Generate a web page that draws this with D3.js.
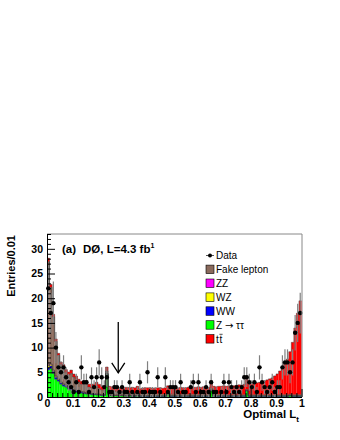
<!DOCTYPE html>
<html>
<head>
<meta charset="utf-8">
<script src="https://cdn.jsdelivr.net/npm/d3@7"></script>
<style>
  body { margin: 0; background: #fff; }
  text { font-family: "Liberation Sans", Arial, sans-serif; }
</style>
</head>
<body>
<div id="chart"></div>
<script>
// histogram bins of width 0.01 on [0, 1]
const binWidth = 0.01;

// Z -> tautau (bottom of the stack)
const zTauTau = [
  5.5, 5.8, 4.8, 3.6, 3.2, 2.6, 2.2, 2.0, 1.6, 1.4,
  1.2, 1.0, 0.9, 0.8, 0.7, 0.6, 0.6, 0.5, 0.5, 0.4,
  0.4, 0.3, 0.3, 4.6, 0.3, 0.2, 0.2, 0.2, 0.2, 0.2,
  0.2, 0.1, 0.2, 0.1, 0.1, 0.2, 0.1, 0.1, 0.1, 0.1,
  0.1, 0.1, 0.1, 0.1, 0.1, 0.1, 0.1, 0.6, 0.1, 0.1,
  0.1, 0.1, 0.1, 0.1, 0.1, 0.1, 0.1, 0.1, 0.1, 0.1,
  0.1, 0.1, 0.1, 0.1, 1.3, 0.1, 0.1, 0.1, 0.1, 0.1,
  0.1, 0.1, 0.1, 0.1, 0.1, 0.1, 0.1, 0.1, 1.2, 0.1,
  0.1, 0.1, 0.1, 0.1, 0.1, 0.1, 0.1, 0.1, 0.1, 0.1,
  0.1, 0.1, 0.1, 0.1, 0.1, 0.2, 0.1, 0.1, 0.1, 0.1
];
const ww = [
  0.5, 0.5, 0.4, 0.4, 0.3, 0.3, 0.3, 0.3, 0.3, 0.2,
  0.2, 0.2, 0.2, 0.2, 0.2, 0.1, 0.1, 0.1, 0.1, 0.1,
  0.1, 0.1, 0.1, 0.1, 0.1, 0.1, 0.1, 0.1, 0.1, 0.1,
  0.1, 0.1, 0.1, 0.1, 0.1, 0.1, 0.1, 0.1, 0.1, 0.1,
  0.1, 0.1, 0.1, 0.1, 0.1, 0.1, 0.1, 0.1, 0.1, 0.1,
  0.1, 0.1, 0.1, 0.1, 0.1, 0.1, 0.1, 0.1, 0.1, 0.1,
  0.1, 0.1, 0.1, 0.1, 0.1, 0.1, 0.1, 0.1, 0.1, 0.1,
  0.1, 0.1, 0.1, 0.1, 0.1, 0.1, 0.1, 0.1, 0.1, 0.1,
  0.1, 0.1, 0.1, 0.1, 0.1, 0.1, 0.1, 0.1, 0.1, 0.1,
  0.1, 0.1, 0.1, 0.1, 0.1, 0.1, 0.1, 0.1, 0.1, 0.1
];
const wz = [
  0.3, 0.3, 0.2, 0.2, 0.1, 0.1, 0.1, 0.1, 0.1, 0.1,
  0.1, 0.1, 0.05, 0.05, 0.05, 0.05, 0.05, 0.05, 0.05, 0.05,
  0.05, 0.05, 0.05, 0.05, 0.05, 0.05, 0.05, 0.05, 0.05, 0.05,
  0.05, 0.05, 0.05, 0.05, 0.05, 0.05, 0.05, 0.05, 0.05, 0.05,
  0.05, 0.05, 0.05, 0.05, 0.05, 0.05, 0.05, 0.05, 0.05, 0.05,
  0.05, 0.05, 0.05, 0.05, 0.05, 0.05, 0.05, 0.05, 0.05, 0.05,
  0.05, 0.05, 0.05, 0.05, 0.05, 0.05, 0.05, 0.05, 0.05, 0.05,
  0.05, 0.05, 0.05, 0.05, 0.05, 0.05, 0.05, 0.05, 0.05, 0.05,
  0.05, 0.05, 0.05, 0.05, 0.05, 0.05, 0.05, 0.05, 0.05, 0.05,
  0.05, 0.05, 0.05, 0.05, 0.05, 0.05, 0.05, 0.05, 0.05, 0.05
];
const zz = [
  0.1, 0.1, 0.05, 0.05, 0.05, 0.05, 0.05, 0.05, 0.05, 0.05,
  0.05, 0.05, 0.05, 0.05, 0.05, 0.05, 0.05, 0.05, 0.05, 0.05,
  0.02, 0.02, 0.02, 0.02, 0.02, 0.02, 0.02, 0.02, 0.02, 0.02,
  0.02, 0.02, 0.02, 0.02, 0.02, 0.02, 0.02, 0.02, 0.02, 0.02,
  0.02, 0.02, 0.02, 0.02, 0.02, 0.02, 0.02, 0.02, 0.02, 0.02,
  0.02, 0.02, 0.02, 0.02, 0.02, 0.02, 0.02, 0.02, 0.02, 0.02,
  0.02, 0.02, 0.02, 0.02, 0.02, 0.02, 0.02, 0.02, 0.02, 0.02,
  0.02, 0.02, 0.02, 0.02, 0.02, 0.02, 0.02, 0.02, 0.02, 0.02,
  0.02, 0.02, 0.02, 0.02, 0.02, 0.02, 0.02, 0.02, 0.02, 0.02,
  0.02, 0.02, 0.02, 0.02, 0.02, 0.02, 0.02, 0.02, 0.02, 0.02
];
const fakeLepton = [
  21.0, 15.5, 10.8, 7.0, 4.8, 3.5, 3.3, 2.5, 2.4, 3.0,
  2.5, 2.2, 1.8, 1.5, 1.6, 1.8, 1.2, 1.2, 1.2, 1.6,
  1.2, 1.0, 0.9, 0.5, 0.8, 0.8, 0.9, 0.7, 0.6, 0.8,
  0.6, 0.6, 0.5, 0.5, 0.5, 0.6, 0.4, 0.4, 0.4, 0.5,
  0.4, 0.4, 0.3, 0.4, 0.3, 0.3, 0.3, 0.3, 0.3, 0.3,
  0.3, 0.3, 0.3, 0.3, 0.3, 0.3, 0.3, 0.3, 0.3, 0.3,
  0.3, 0.3, 0.3, 0.3, 0.3, 0.3, 0.3, 0.3, 0.3, 0.3,
  0.2, 0.2, 0.2, 0.2, 0.2, 0.2, 0.2, 0.2, 0.2, 0.2,
  0.2, 0.2, 0.2, 0.2, 0.2, 0.2, 0.2, 0.2, 0.2, 0.2,
  0.2, 0.2, 0.2, 0.2, 0.2, 0.2, 0.2, 0.2, 0.2, 0.2
];
// ttbar (top of the stack)
const ttbar = [
  0.7, 0.6, 0.5, 0.5, 0.4, 0.5, 0.6, 0.6, 0.6, 0.7,
  0.6, 0.7, 0.6, 0.6, 0.6, 0.7, 0.6, 0.7, 0.7, 0.8,
  0.8, 0.8, 0.8, 0.8, 0.9, 0.9, 1.0, 0.9, 0.9, 1.0,
  1.0, 1.1, 1.0, 1.2, 1.1, 1.2, 1.0, 1.1, 1.2, 1.1,
  1.2, 1.1, 1.2, 1.2, 1.3, 1.2, 1.3, 1.2, 1.3, 1.2,
  1.3, 1.2, 1.4, 1.3, 1.3, 1.4, 1.3, 1.4, 1.4, 1.5,
  1.4, 1.5, 1.5, 1.4, 1.5, 1.6, 1.5, 1.6, 1.6, 1.7,
  1.7, 1.8, 1.7, 1.8, 1.9, 2.0, 1.9, 2.1, 2.0, 2.2,
  2.2, 2.3, 2.4, 2.5, 2.6, 2.8, 3.0, 3.2, 3.4, 3.8,
  4.2, 4.8, 5.3, 6.2, 7.2, 8.6, 10.6, 13.5, 16.5, 19.0
];
// observed events per bin
const dataCounts = [
  22, 17, 19, 10, 6, 5, 6, 4, 3, 2,
  1, 3, 1, 6, 3, 3, 1, 4, 2, 4,
  7, 4, 2, 4, 1, 1, 2, 2, 1, 2,
  1, 1, 3, 1, 0, 1, 3, 1, 1, 5,
  1, 1, 1, 4, 1, 0, 4, 1, 2, 2,
  2, 1, 3, 1, 1, 0, 2, 3, 1, 3,
  1, 1, 2, 1, 3, 1, 1, 0, 1, 3,
  1, 3, 2, 1, 2, 1, 2, 4, 4, 3,
  2, 3, 1, 6, 3, 2, 1, 2, 3, 1,
  2, 2, 6, 7, 7, 5, 7, 13, 15, 17
];

const yTicks = [0, 5, 10, 15, 20, 25, 30];
const xTicks = [0, 0.1, 0.2, 0.3, 0.4, 0.5, 0.6, 0.7, 0.8, 0.9, 1];
const xTickLabels = ["0", "0.1", "0.2", "0.3", "0.4", "0.5", "0.6", "0.7", "0.8", "0.9", "1"];
const stackKeys = ["zTauTau", "ww", "wz", "zz", "fake", "ttbar"];
const stackColors = ["#00ff00", "#0000ff", "#ffff00", "#ff00ff", "#8a6a5c", "#ff0000"];
const legendLabels = ["Data", "Fake lepton", "ZZ", "WZ", "WW", "Z \u2192 \u03c4\u03c4", "t\u200at"];
const legendColors = [null, "#8a6a5c", "#ff00ff", "#ffff00", "#0000ff", "#00ff00", "#ff0000"];
const cutValue = 0.28;

const width = 340, height = 440;
const svg = d3.select("#chart").append("svg")
  .attr("width", width)
  .attr("height", height);
svg.append("rect").attr("width", width).attr("height", height).attr("fill", "#fff");

const x = d3.scaleLinear().domain([0, 1]).range([47, 301.5]);
const y = d3.scaleLinear().domain([0, 33]).range([397, 234]);

const rows = d3.range(100).map(i => ({
  bin: i,
  zTauTau: zTauTau[i], ww: ww[i], wz: wz[i], zz: zz[i],
  fake: fakeLepton[i], ttbar: ttbar[i]
}));
const series = d3.stack().keys(stackKeys)(rows);
const bw = x(binWidth) - x(0);

// filled stack
series.forEach((s, k) => {
  svg.append("g").selectAll("rect").data(s).join("rect")
    .attr("x", d => x(d.data.bin * binWidth))
    .attr("width", bw + 0.05)
    .attr("y", d => y(d[1]))
    .attr("height", d => y(d[0]) - y(d[1]))
    .attr("fill", stackColors[k]);
});

// step outlines of each cumulative histogram
const step = d3.line().curve(d3.curveStepAfter);
series.forEach(s => {
  const pts = s.map(d => [x(d.data.bin * binWidth), y(d[1])]);
  pts.push([x(1), y(s[s.length - 1][1])]);
  svg.append("path")
    .attr("d", step(pts))
    .attr("fill", "none")
    .attr("stroke", "#333")
    .attr("stroke-width", 0.45);
});

// data points with errors
const pts = dataCounts.map((n, i) => ({ n, i })).filter(d => d.n > 0);
svg.append("g").selectAll("line").data(pts).join("line")
  .attr("x1", d => x((d.i + 0.5) * binWidth))
  .attr("x2", d => x((d.i + 0.5) * binWidth))
  .attr("y1", d => y(d.n + Math.sqrt(d.n)))
  .attr("y2", d => y(Math.max(0, d.n - Math.sqrt(d.n))))
  .attr("stroke", "#808080")
  .attr("stroke-width", 1.2);
svg.append("g").selectAll("circle").data(pts).join("circle")
  .attr("cx", d => x((d.i + 0.5) * binWidth))
  .attr("cy", d => y(d.n))
  .attr("r", 2.2)
  .attr("fill", "#000");

// frame
svg.append("line").attr("x1", x(0)).attr("x2", x(1) + 0.5).attr("y1", y(33)).attr("y2", y(33))
  .attr("stroke", "#888").attr("stroke-width", 1);
svg.append("line").attr("x1", x(1) + 0.5).attr("x2", x(1) + 0.5).attr("y1", y(33)).attr("y2", y(0))
  .attr("stroke", "#888").attr("stroke-width", 1);

// axes
const yAxis = svg.append("g").attr("transform", `translate(${x(0)},0)`)
  .call(d3.axisLeft(y).tickValues(yTicks).tickSize(-8).tickSizeOuter(0).tickPadding(4)
    .tickFormat(d3.format("d")));
svg.append("g").attr("transform", `translate(${x(0)},0)`)
  .call(d3.axisLeft(y).tickValues(d3.range(0, 34).filter(v => v % 5 !== 0))
    .tickSize(-4).tickFormat(""))
  .call(g => g.select(".domain").remove());
const xAxis = svg.append("g").attr("transform", `translate(0,${y(0)})`)
  .call(d3.axisBottom(x).tickValues(xTicks).tickSize(-8).tickSizeOuter(0).tickPadding(3)
    .tickFormat((d, i) => xTickLabels[i]));
svg.append("g").attr("transform", `translate(0,${y(0)})`)
  .call(d3.axisBottom(x).tickValues(d3.range(1, 50).map(v => v * 0.02).filter(v => Math.round(v * 50) % 5 !== 0))
    .tickSize(-4).tickFormat(""))
  .call(g => g.select(".domain").remove());

[yAxis, xAxis].forEach(g => {
  g.selectAll("text")
    .attr("font-family", "Liberation Sans, Arial, sans-serif")
    .attr("font-weight", "bold")
    .attr("font-size", 10.5)
    .attr("fill", "#000");
  g.select(".domain").attr("stroke", "#000");
});

// axis titles
svg.append("text")
  .attr("transform", "translate(15,235) rotate(-90)")
  .attr("text-anchor", "end")
  .attr("font-weight", "bold")
  .attr("font-size", 11)
  .text("Entries/0.01");
const xt = svg.append("text")
  .attr("x", 299).attr("y", 418)
  .attr("text-anchor", "end")
  .attr("font-weight", "bold")
  .attr("font-size", 11.5);
xt.append("tspan").text("Optimal L");
xt.append("tspan").attr("font-size", 8).attr("dy", 4).text("t");

// experiment label
const lbl = svg.append("text")
  .attr("x", 62).attr("y", 253)
  .attr("font-weight", "bold")
  .attr("font-size", 11.5);
lbl.append("tspan").text("(a)");
lbl.append("tspan").attr("dx", 7).text("D\u00d8, L=4.3 fb");
lbl.append("tspan").attr("font-size", 7).attr("dy", -5).text("1");

// cut arrow
const ax = x(cutValue);
svg.append("line").attr("x1", ax).attr("x2", ax).attr("y1", y(15.2)).attr("y2", y(4.9))
  .attr("stroke", "#000").attr("stroke-width", 1.3);
svg.append("path")
  .attr("d", `M${ax - 6.5},${y(4.9) - 10}L${ax},${y(4.9)}L${ax + 6.5},${y(4.9) - 10}`)
  .attr("fill", "none").attr("stroke", "#000").attr("stroke-width", 1.3);

// legend
const legend = svg.append("g");
legendLabels.forEach((lab, i) => {
  const cy = 255.5 + i * 13.9;
  if (i === 0) {
    legend.append("line").attr("x1", 206).attr("x2", 214).attr("y1", cy).attr("y2", cy)
      .attr("stroke", "#555").attr("stroke-width", 1);
    legend.append("circle").attr("cx", 210).attr("cy", cy).attr("r", 2).attr("fill", "#000");
  } else {
    legend.append("rect").attr("x", 206).attr("y", cy - 4.3).attr("width", 8).attr("height", 8.5)
      .attr("fill", legendColors[i]).attr("stroke", "#000").attr("stroke-width", 0.6);
  }
  const t = legend.append("text").attr("x", 216).attr("y", cy + 3.7)
    .attr("font-size", 10);
  if (i === 5) {
    t.append("tspan").text("Z ");
    t.append("tspan").attr("font-family", "DejaVu Sans").attr("font-size", 10).text("\u2192");
    t.append("tspan").text(" \u03c4\u03c4");
  } else {
    t.text(lab);
  }
  if (i === 6) {
    // bar over the second t
    const bb = t.node().getBBox();
    legend.append("line").attr("x1", bb.x + bb.width - 3.2).attr("x2", bb.x + bb.width)
      .attr("y1", cy - 4.6).attr("y2", cy - 4.6).attr("stroke", "#000").attr("stroke-width", 0.7);
  }
});
</script>
</body>
</html>
